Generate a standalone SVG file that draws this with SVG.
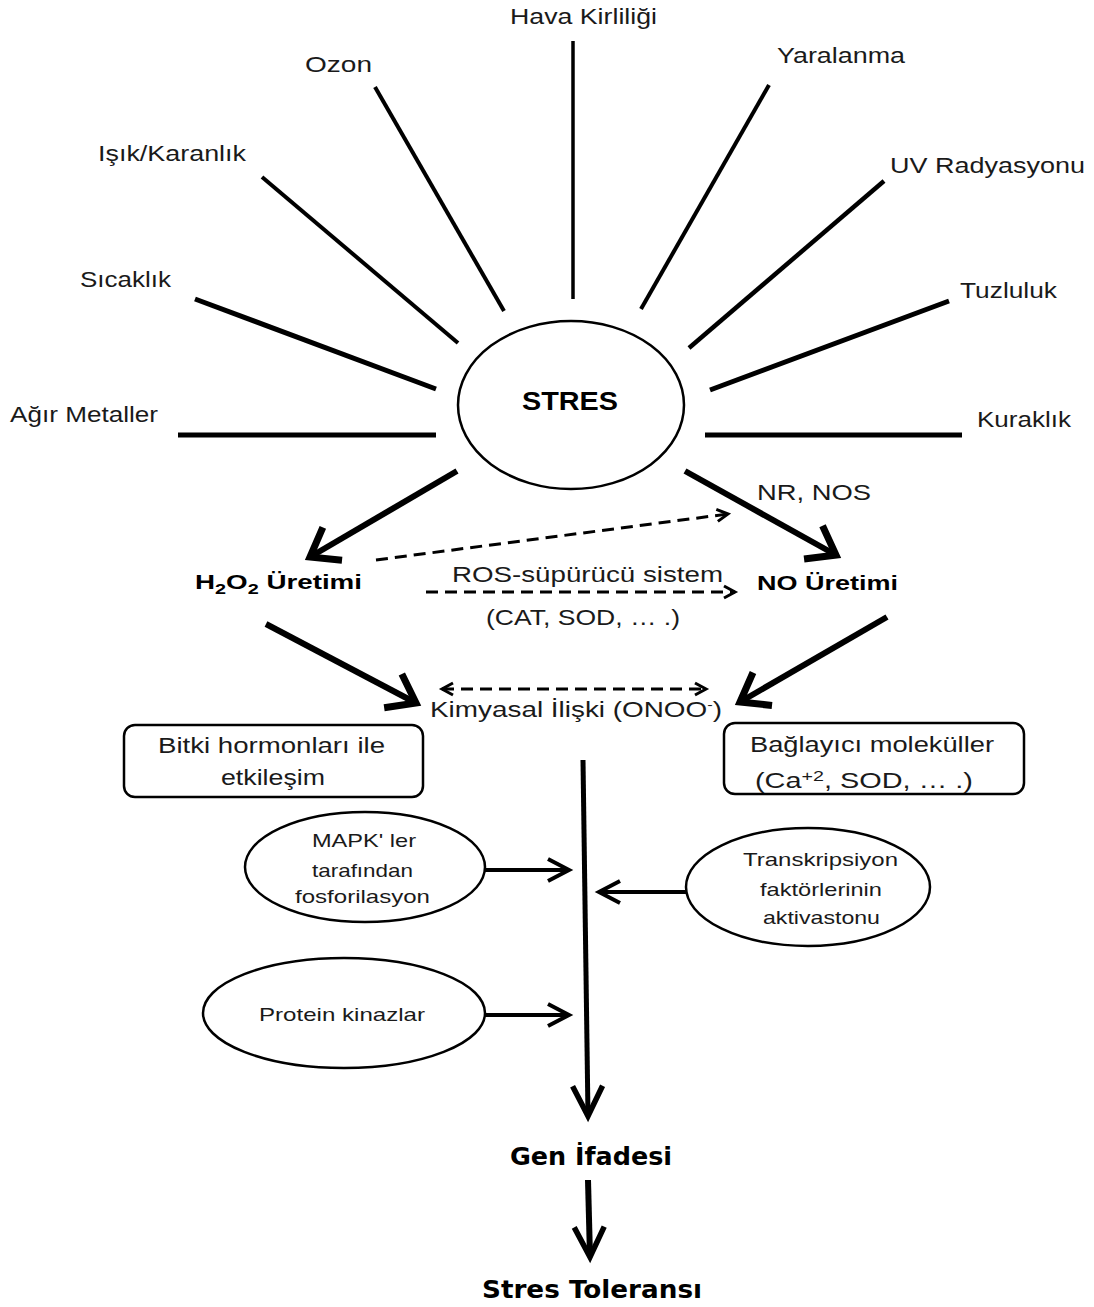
<svg xmlns="http://www.w3.org/2000/svg" width="1094" height="1307" viewBox="0 0 1094 1307">
<defs>
<style>
.t{font-family:"Liberation Sans",Arial,sans-serif;font-size:22px;fill:#1a1a1a}
.s{font-family:"Liberation Sans",Arial,sans-serif;font-size:19px;fill:#1a1a1a}
.b{font-family:"Liberation Sans",Arial,sans-serif;font-weight:bold;fill:#000}
.v{font-family:"DejaVu Sans",Verdana,sans-serif;font-weight:bold;font-size:24px;fill:#000}
.spoke{stroke:#000;fill:none;stroke-linecap:butt}
.ln{stroke:#000;fill:none}
.dash{stroke:#000;fill:none;stroke-width:3;stroke-dasharray:12 7}
.shape{fill:#fff;stroke:#000;stroke-width:2.5}
</style>
<marker id="hBig" markerUnits="userSpaceOnUse" orient="auto" refX="0" refY="0" markerWidth="80" markerHeight="80" viewBox="-40 -40 80 80" overflow="visible">
<path d="M-26,-19 L0,0 L-26,19" fill="none" stroke="#000" stroke-width="7" stroke-linejoin="miter"/>
</marker>
<marker id="hMain" markerUnits="userSpaceOnUse" orient="auto" refX="0" refY="0" markerWidth="80" markerHeight="80" viewBox="-40 -40 80 80" overflow="visible">
<path d="M-30,-15 L0,0 L-30,15" fill="none" stroke="#000" stroke-width="5.5" stroke-linejoin="miter"/>
</marker>
<marker id="hMed" markerUnits="userSpaceOnUse" orient="auto" refX="0" refY="0" markerWidth="60" markerHeight="60" viewBox="-30 -30 60 60" overflow="visible">
<path d="M-21,-11 L0,0 L-21,11" fill="none" stroke="#000" stroke-width="4" stroke-linejoin="miter"/>
</marker>
<marker id="hDash" markerUnits="userSpaceOnUse" orient="auto-start-reverse" refX="0" refY="0" markerWidth="40" markerHeight="40" viewBox="-20 -20 40 40" overflow="visible">
<path d="M-11,-6 L0,0 L-11,6" fill="none" stroke="#000" stroke-width="3"/>
</marker>
</defs>
<rect width="1094" height="1307" fill="#fff"/>

<g id="connectors">
<g id="spokes">
<line class="spoke" x1="573" y1="41" x2="573" y2="299" stroke-width="3.5"/>
<line class="spoke" x1="375" y1="87" x2="504" y2="311" stroke-width="4"/>
<line class="spoke" x1="262" y1="177" x2="458" y2="343" stroke-width="4"/>
<line class="spoke" x1="195" y1="299" x2="436" y2="389" stroke-width="5"/>
<line class="spoke" x1="178" y1="435" x2="436" y2="435" stroke-width="5"/>
<line class="spoke" x1="769" y1="85" x2="641" y2="309" stroke-width="4"/>
<line class="spoke" x1="884" y1="181" x2="689" y2="348" stroke-width="4.5"/>
<line class="spoke" x1="949" y1="301" x2="710" y2="390" stroke-width="5"/>
<line class="spoke" x1="705" y1="435" x2="962" y2="435" stroke-width="5"/>
</g>
<line class="ln" x1="457" y1="471" x2="310" y2="557" stroke-width="6" marker-end="url(#hBig)"/>
<line class="ln" x1="685" y1="471" x2="836" y2="555" stroke-width="6" marker-end="url(#hBig)"/>
<line class="dash" x1="376" y1="560" x2="728" y2="514" marker-end="url(#hDash)"/>
<line class="dash" x1="426" y1="592" x2="735" y2="592" marker-end="url(#hDash)"/>
<line class="ln" x1="266" y1="624" x2="416" y2="703" stroke-width="6" marker-end="url(#hBig)"/>
<line class="ln" x1="887" y1="617" x2="740" y2="702" stroke-width="6" marker-end="url(#hBig)"/>
<line class="dash" x1="442" y1="689" x2="706" y2="689" marker-start="url(#hDash)" marker-end="url(#hDash)"/>
<line class="ln" x1="583" y1="760" x2="588" y2="1116" stroke-width="5" marker-end="url(#hMain)"/>
<line class="ln" x1="485" y1="870" x2="569" y2="870" stroke-width="4" marker-end="url(#hMed)"/>
<line class="ln" x1="686" y1="892" x2="599" y2="892" stroke-width="4" marker-end="url(#hMed)"/>
<line class="ln" x1="485" y1="1015" x2="569" y2="1015" stroke-width="4" marker-end="url(#hMed)"/>
<line class="ln" x1="588" y1="1180" x2="590" y2="1257" stroke-width="6" marker-end="url(#hMain)"/>
</g>

<g id="n-hava"><text class="t" x="510" y="24" textLength="147" lengthAdjust="spacingAndGlyphs">Hava  Kirliliği</text></g>
<g id="n-ozon"><text class="t" x="305" y="72" textLength="67" lengthAdjust="spacingAndGlyphs">Ozon</text></g>
<g id="n-yaralanma"><text class="t" x="777" y="63" textLength="128" lengthAdjust="spacingAndGlyphs">Yaralanma</text></g>
<g id="n-isik"><text class="t" x="98" y="161" textLength="148" lengthAdjust="spacingAndGlyphs">Işık/Karanlık</text></g>
<g id="n-uv"><text class="t" x="890" y="173" textLength="195" lengthAdjust="spacingAndGlyphs">UV Radyasyonu</text></g>
<g id="n-sicaklik"><text class="t" x="80" y="287" textLength="91" lengthAdjust="spacingAndGlyphs">Sıcaklık</text></g>
<g id="n-tuzluluk"><text class="t" x="960" y="298" textLength="97" lengthAdjust="spacingAndGlyphs">Tuzluluk</text></g>
<g id="n-agir"><text class="t" x="10" y="422" textLength="148" lengthAdjust="spacingAndGlyphs">Ağır Metaller</text></g>
<g id="n-kuraklik"><text class="t" x="977" y="427" textLength="94" lengthAdjust="spacingAndGlyphs">Kuraklık</text></g>

<g id="n-stres">
<ellipse class="shape" cx="571" cy="405" rx="113" ry="84"/>
<text class="b" x="522" y="410" font-size="25" textLength="96" lengthAdjust="spacingAndGlyphs">STRES</text>
</g>

<g id="n-nrnos"><text class="t" x="757" y="500" textLength="114" lengthAdjust="spacingAndGlyphs">NR, NOS</text></g>
<g id="n-h2o2"><text class="b" x="195" y="589" font-size="21" textLength="167" lengthAdjust="spacingAndGlyphs">H<tspan font-size="15" dy="5">2</tspan><tspan dy="-5">O</tspan><tspan font-size="15" dy="5">2</tspan><tspan dy="-5"> Üretimi</tspan></text></g>
<g id="n-no"><text class="b" x="757" y="590" font-size="21" textLength="141" lengthAdjust="spacingAndGlyphs">NO Üretimi</text></g>
<g id="n-ros"><text class="t" x="452" y="582" textLength="271" lengthAdjust="spacingAndGlyphs">ROS-süpürücü sistem</text></g>
<g id="n-cat"><text class="t" x="486" y="625" textLength="194" lengthAdjust="spacingAndGlyphs">(CAT, SOD, … .)</text></g>
<g id="n-kimyasal"><text class="t" x="430" y="717" textLength="292" lengthAdjust="spacingAndGlyphs">Kimyasal İlişki (ONOO<tspan font-size="13" dy="-8">-</tspan><tspan dy="8">)</tspan></text></g>

<g id="n-bitki">
<rect class="shape" x="124" y="725" width="299" height="72" rx="11"/>
<text class="t" x="158" y="753" textLength="227" lengthAdjust="spacingAndGlyphs">Bitki hormonları ile</text>
<text class="t" x="221" y="785" textLength="104" lengthAdjust="spacingAndGlyphs">etkileşim</text>
</g>
<g id="n-baglayici">
<rect class="shape" x="724" y="723" width="300" height="71" rx="11"/>
<text class="t" x="750" y="752" textLength="244" lengthAdjust="spacingAndGlyphs">Bağlayıcı  moleküller</text>
<text class="t" x="755" y="788" textLength="218" lengthAdjust="spacingAndGlyphs">(Ca<tspan font-size="15" dy="-7">+2</tspan><tspan dy="7">, SOD, … .)</tspan></text>
</g>

<g id="n-mapk">
<ellipse class="shape" cx="365" cy="867" rx="120" ry="55"/>
<text class="s" x="312" y="847" textLength="104" lengthAdjust="spacingAndGlyphs">MAPK' ler</text>
<text class="s" x="312" y="877" textLength="101" lengthAdjust="spacingAndGlyphs">tarafından</text>
<text class="s" x="295" y="903" textLength="135" lengthAdjust="spacingAndGlyphs">fosforilasyon</text>
</g>
<g id="n-transkripsiyon">
<ellipse class="shape" cx="808" cy="887" rx="122" ry="59"/>
<text class="s" x="743" y="866" textLength="155" lengthAdjust="spacingAndGlyphs">Transkripsiyon</text>
<text class="s" x="760" y="896" textLength="122" lengthAdjust="spacingAndGlyphs">faktörlerinin</text>
<text class="s" x="763" y="924" textLength="117" lengthAdjust="spacingAndGlyphs">aktivastonu</text>
</g>
<g id="n-protein">
<ellipse class="shape" cx="344" cy="1013" rx="141" ry="55"/>
<text class="s" x="259" y="1021" textLength="166" lengthAdjust="spacingAndGlyphs">Protein kinazlar</text>
</g>

<g id="n-gen"><text class="v" x="510" y="1165" textLength="162" lengthAdjust="spacingAndGlyphs">Gen İfadesi</text></g>
<g id="n-tolerans"><text class="v" x="482" y="1298" textLength="220" lengthAdjust="spacingAndGlyphs">Stres Toleransı</text></g>
</svg>
